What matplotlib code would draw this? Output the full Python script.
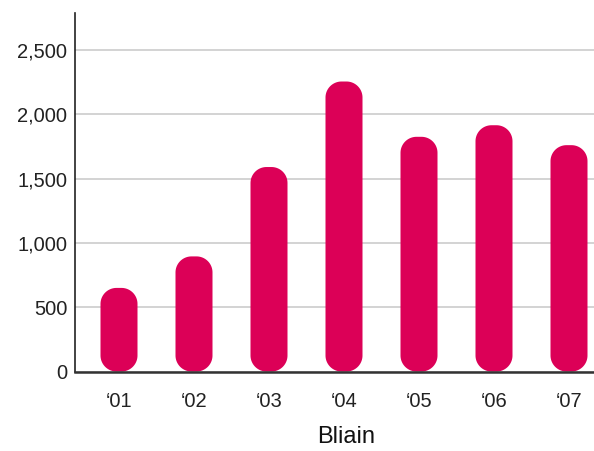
import matplotlib
matplotlib.use("Agg")
import numpy as np
import matplotlib.pyplot as plt
from matplotlib.patches import Polygon

categories = ["\u201801", "\u201802", "\u201803", "\u201804", "\u201805", "\u201806", "\u201807"]
values = [650, 895, 1590, 2255, 1825, 1915, 1760]
yticks = [0, 500, 1000, 1500, 2000, 2500]
ytick_labels = ["0", "500", "1,000", "1,500", "2,000", "2,500"]
xlabel = "Bliain"

plt.rcParams['font.family'] = ['Liberation Sans', 'DejaVu Sans']

W, H = 594, 451
fig = plt.figure(figsize=(W / 100, H / 100), dpi=100)
ax_l, ax_r, ax_t, ax_b = 75, 594, 12.7, 371.5
ax = fig.add_axes([ax_l / W, (H - ax_b) / H, (ax_r - ax_l) / W, (ax_b - ax_t) / H])

px_per_cat = 75.0
first_center = 119.0
x0 = (ax_l - first_center) / px_per_cat
x1 = (ax_r - first_center) / px_per_cat
ax.set_xlim(x0, x1)
ymax = (ax_b - ax_t) / ((ax_b - 50) / 2500)
ax.set_ylim(0, ymax)

color = "#dc0057"
bar_w = 37 / px_per_cat
radius_px = 16
# data units per pixel
ux = (x1 - x0) / (ax_r - ax_l)
uy = ymax / (ax_b - ax_t)
rx = radius_px * ux
ry = radius_px * uy


def pill(xc, top):
    left, right = xc - bar_w / 2, xc + bar_w / 2
    t = np.linspace(0, np.pi / 2, 24)
    pts = [(left + rx - rx * np.sin(a), ry - ry * np.cos(a)) for a in t]
    pts += [(left + rx - rx * np.cos(a), top - ry + ry * np.sin(a)) for a in t]
    pts += [(right - rx + rx * np.sin(a), top - ry + ry * np.cos(a)) for a in t]
    pts += [(right - rx + rx * np.cos(a), ry - ry * np.sin(a)) for a in t]
    return pts


for i, v in enumerate(values):
    ax.add_patch(Polygon(pill(i, v), closed=True, facecolor=color,
                         edgecolor="none", zorder=3))

ax.set_yticks(yticks)
ax.set_yticklabels(ytick_labels)
ax.set_xticks(range(len(categories)))
ax.set_xticklabels(categories)
ax.tick_params(axis='both', length=0, colors="#222222")
ax.tick_params(axis='y', labelsize=14.5, pad=5.5)
ax.tick_params(axis='x', labelsize=14.5, pad=14.5)
ax.grid(axis='y', color="#cccccc", linewidth=1.2, zorder=0)
ax.set_axisbelow(True)
for s in ["top", "right"]:
    ax.spines[s].set_visible(False)
ax.spines["left"].set_color("#222222")
ax.spines["left"].set_linewidth(1.2)
ax.spines["bottom"].set_color("#333333")
ax.spines["bottom"].set_linewidth(1.8)
ax.spines["bottom"].set_zorder(4)

ax.set_xlabel(xlabel, fontsize=17, color="#111111")
ax.xaxis.set_label_coords((346 - ax_l) / (ax_r - ax_l), -(437 - ax_b) / (ax_b - ax_t), transform=ax.transAxes)
ax.xaxis.label.set_va("center")

fig.savefig("out.png", dpi=100)
